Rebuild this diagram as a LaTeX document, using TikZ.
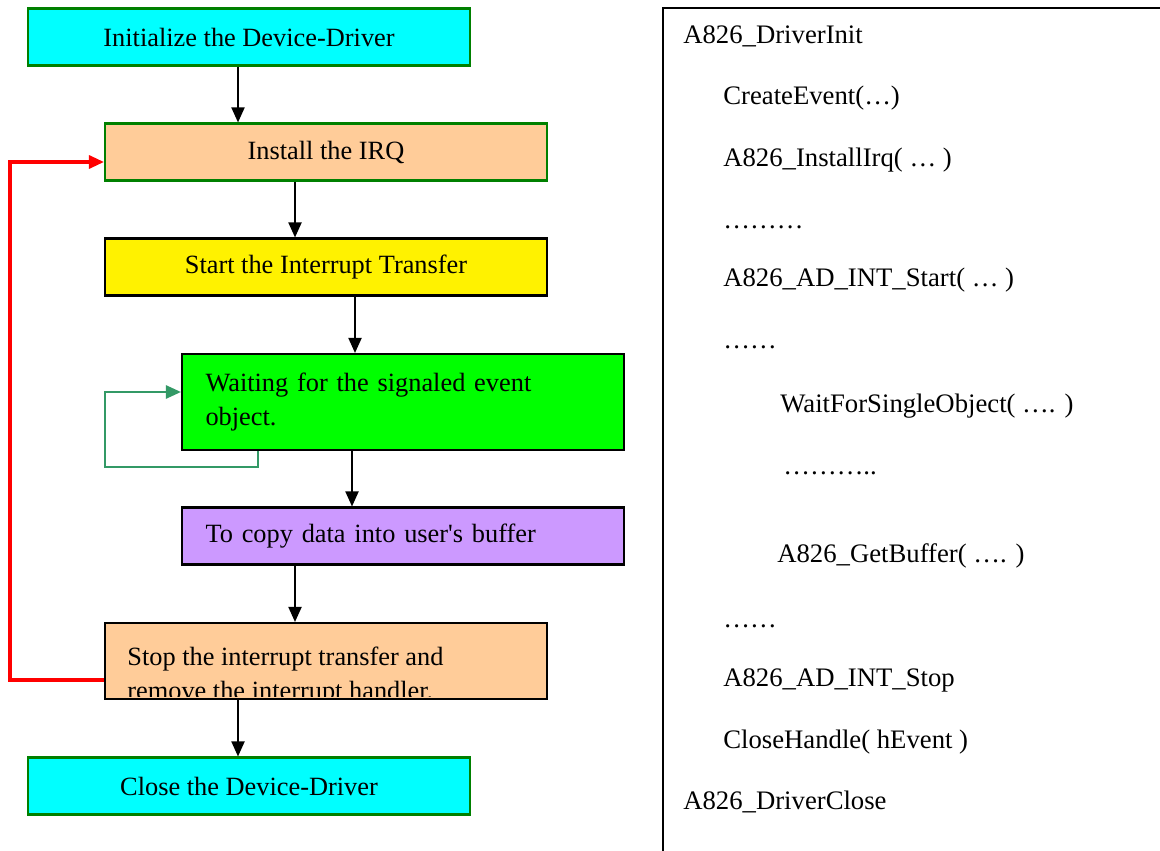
\documentclass[tikz,border=0pt]{standalone}
\usepackage{fontspec}
\setmainfont{Liberation Serif}
\usetikzlibrary{arrows.meta}
\definecolor{peach}{HTML}{FFCC99}
\definecolor{lilac}{HTML}{CC99FF}
\definecolor{lime}{HTML}{00FF00}
\definecolor{aqua}{HTML}{00FFFF}
\definecolor{darkgreen}{HTML}{008000}
\definecolor{loopgreen}{HTML}{339966}
\tikzset{
    stepbox/.style={draw=black, line width=1.2pt, minimum width=8.84cm, minimum height=1.14cm,
        font=\fontsize{15}{19}\selectfont, inner sep=0pt},
    leftbox/.style={stepbox, text width=7.9cm, align=left},
    flow/.style={line width=1.1pt, -{Triangle[length=0.3cm, width=0.26cm]}},
    code/.style={anchor=base west, inner sep=0pt, font=\fontsize{15.2}{19}\selectfont}
}
\begin{document}
\begin{tikzpicture}[x=0.02cm, y=-0.02cm]
            \useasboundingbox (0,0) rectangle (1160,851);
            % flow chart
            \node[stepbox, fill=aqua, draw=darkgreen] (init) at (249,37) {Initialize the Device-Driver};
            \node[stepbox, fill=peach, draw=darkgreen] (irq) at (326,152) {Install the IRQ};
            \node[stepbox, fill=yellow] (start) at (326,267) {Start the Interrupt Transfer};
            \node[leftbox, fill=lime, minimum height=1.92cm] (wait) at (403,402) {Waiting for the signaled event\\object.};
            \node[leftbox, fill=lilac] (copy) at (403,536) {To copy data into user\textquotesingle s buffer};
            \node[stepbox, fill=peach, minimum height=1.52cm] (stop) at (326,661) {};
            \begin{scope}
                \clip ([yshift=2pt]stop.south west) rectangle (stop.north east);
                \node[anchor=west, align=left, inner sep=0pt, font=\fontsize{15}{19}\selectfont] (stoptext) at (127,676)
                    {Stop the interrupt transfer and\\remove the interrupt handler.};
            \end{scope}
            \node[stepbox, fill=aqua, draw=darkgreen] (close) at (249,786) {Close the Device-Driver};

            \draw [flow] (init.south -| 238,0) -- (irq.north -| 238,0);
            \draw [flow] (irq.south -| 295,0) -- (start.north -| 295,0);
            \draw [flow] (start.south -| 355,0) -- (wait.north -| 355,0);
            \draw [flow] (wait.south -| 352,0) -- (copy.north -| 352,0);
            \draw [flow] (copy.south -| 295,0) -- (stop.north -| 295,0);
            \draw [flow] (stop.south -| 238,0) -- (close.north -| 238,0);

            % loops
            \draw [flow, red, line width=1.8pt] (stop.west |- 0,680) -- (10,680) -- (10,162) -- (irq.west |- 0,162);
            \draw [flow, loopgreen, line width=1.4pt] (wait.south -| 258,0) -- (258,467) -- (105,467) -- (105,392) -- (wait.west |- 0,392);

            % code listing
            \draw [line width=1.2pt] (1160,8) -- (663,8) -- (663,851);
            \node[code] (c1) at (683,44) {A826\_DriverInit};
            \node[code] (c2) at (723,105) {CreateEvent(…)};
            \node[code] (c3) at (723,167) {A826\_InstallIrq( … )};
            \node[code] (c4) at (723,229) {………};
            \node[code] (c5) at (723,287) {A826\_AD\_INT\_Start( … )};
            \node[code] (c6) at (723,349) {……};
            \node[code] (c7) at (780,412) {WaitForSingleObject( …. )};
            \node[code] (c8) at (783,474) {………..};
            \node[code] (c9) at (777,562) {A826\_GetBuffer( …. )};
            \node[code] (c10) at (723,627) {……};
            \node[code] (c11) at (723,686) {A826\_AD\_INT\_Stop};
            \node[code] (c12) at (723,748) {CloseHandle( hEvent )};
            \node[code] (c13) at (683,809) {A826\_DriverClose};
        \end{tikzpicture}
\end{document}
